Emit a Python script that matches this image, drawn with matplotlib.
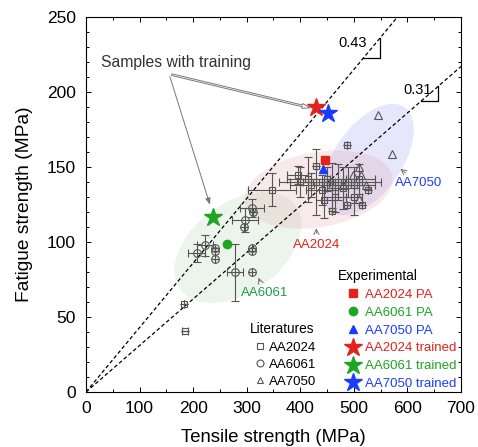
import matplotlib
matplotlib.use('Agg')
import matplotlib.pyplot as plt
from matplotlib.patches import Ellipse
from matplotlib.lines import Line2D
import numpy as np

plt.rcParams['font.family'] = ['Liberation Sans', 'DejaVu Sans']

# ---------------- data ----------------
# Literature AA2024 (tensile, fatigue, x error, y error)
lit2024_x    = [183, 185, 347, 429, 487, 460, 487, 515, 527, 400, 420, 430, 440, 450, 460, 470, 480, 490, 500, 510, 445, 465, 500, 395, 415, 455]
lit2024_y    = [59,  41,  135, 151, 165, 121, 125, 125, 135, 140, 138, 140, 135, 142, 138, 140, 136, 140, 138, 142, 128, 130, 130, 145, 142, 140]
lit2024_xerr = [0,   5,   45,  0,   0,   0,   0,   0,   0,   20,  40,  25,  30,  35,  40,  30,  30,  25,  40,  30,  15,  20,  15,  20,  40,  95]
lit2024_yerr = [0,   0,   11,  0,   0,   0,   0,   0,   0,   10,  8,   22,  10,  8,   15,  12,  14,  10,  12,  10,  12,  10,  12,  6,   15,  0]

# Literature AA6061
lit6061_x    = [207, 222, 241, 241, 241, 297, 295, 310, 312, 310, 310, 278, 310]
lit6061_y    = [93,  98,  96,  94,  89,  115, 110, 123, 120, 96,  94,  80,  80]
lit6061_xerr = [16,  15,  0,   0,   0,   24,  0,   23,  0,   0,   0,   15,  0]
lit6061_yerr = [6,   7,   0,   0,   0,   8,   0,   6,   0,   0,   0,   19,  0]

# Literature AA7050
lit7050_x = [545, 571, 510, 498, 514, 522, 510, 480]
lit7050_y = [185, 159, 150, 145, 145, 138, 129, 138]

# Experimental (PA) and trained samples
alloys = ['AA2024', 'AA6061', 'AA7050']
pa_x = [446, 263, 442]
pa_y = [155, 99, 149]
trained_x = [429, 237, 452]
trained_y = [190, 117, 186]

slopes = [0.43, 0.31]
slope_labels = ['0.43', '0.31']

xticks = [0, 100, 200, 300, 400, 500, 600, 700]
yticks = [0, 50, 100, 150, 200, 250]

# ---------------- style ----------------
RED = '#e3221c'
GREEN = '#1ea524'
BLUE = '#1a3cff'
GRAY = '#555555'
pa_markers = ['s', 'o', '^']
colors = [RED, GREEN, BLUE]

fig = plt.figure(figsize=(4.78, 4.47), dpi=100)
ax = fig.add_axes([86/478, 55/447, 375/478, 375/447])
ax.set_xlim(0, 700)
ax.set_ylim(0, 250)

# shaded regions (in axes fraction; the axes is square in pixels)
ax.add_patch(Ellipse((0.405, 0.385), 0.38, 0.24, angle=36, transform=ax.transAxes,
                     facecolor='#5aa85a', alpha=0.11, edgecolor='none', zorder=0))
ax.add_patch(Ellipse((0.752, 0.62), 0.34, 0.18, angle=55, transform=ax.transAxes,
                     facecolor='#6a6af0', alpha=0.16, edgecolor='none', zorder=0))
ax.add_patch(Ellipse((0.62, 0.54), 0.40, 0.20, angle=10, transform=ax.transAxes,
                     facecolor='#d87070', alpha=0.14, edgecolor='none', zorder=0))

# ratio lines
xs = np.linspace(0, 700, 200)
for s in slopes:
    ax.plot(xs, s * xs, color='black', lw=0.9, dashes=(3, 2), zorder=2)

# slope triangles
ax.plot([518, 549, 549], [0.43*518, 0.43*518, 0.43*549], color='black', lw=0.9, zorder=2)
ax.plot([625, 657, 657], [0.31*625, 0.31*625, 0.31*657], color='black', lw=0.9, zorder=2)
ax.text(524, 232.5, slope_labels[0], fontsize=10.5, ha='right', va='center')
ax.text(646, 201, slope_labels[1], fontsize=10.5, ha='right', va='center')

# literature data
ekw = dict(fmt='none', ecolor=GRAY, elinewidth=0.8, capsize=3, capthick=0.8, zorder=3)
ax.errorbar(lit2024_x, lit2024_y, xerr=lit2024_xerr, yerr=lit2024_yerr, **ekw)
ax.errorbar(lit6061_x, lit6061_y, xerr=lit6061_xerr, yerr=lit6061_yerr, **ekw)
ax.plot(lit2024_x, lit2024_y, 's', ms=5, mfc='none', mec=GRAY, mew=0.8, zorder=4)
ax.plot(lit6061_x, lit6061_y, 'o', ms=5.5, mfc='none', mec=GRAY, mew=0.8, zorder=4)
ax.plot(lit7050_x, lit7050_y, '^', ms=5.5, mfc='none', mec=GRAY, mew=0.8, zorder=4)

# experimental
for i in range(3):
    ax.plot(pa_x[i], pa_y[i], pa_markers[i], ms=6, color=colors[i], zorder=5)
    ax.plot(trained_x[i], trained_y[i], '*', ms=13.5, color=colors[i], zorder=5)

# annotations
ax.text(168, 220, 'Samples with training', fontsize=11.3, color='#333333', ha='center', va='center')
ax.annotate('', xy=(424, 189), xytext=(155, 212),
            arrowprops=dict(arrowstyle='simple,head_width=0.35,head_length=0.6,tail_width=0.12',
                            fc='white', ec='#777777', lw=0.7), zorder=6)
ax.annotate('', xy=(233, 123), xytext=(155, 212),
            arrowprops=dict(arrowstyle='-|>,head_width=0.15,head_length=0.4', color='#777777', lw=0.7), zorder=6)

ax.annotate('AA2024', xy=(430, 111), xytext=(430, 98), fontsize=9.5, color=RED,
            ha='center', va='center',
            arrowprops=dict(arrowstyle='->', color='#777777', lw=0.7))
ax.annotate('AA6061', xy=(320, 78), xytext=(333, 66), fontsize=9.5, color='#1e9a4c',
            ha='center', va='center',
            arrowprops=dict(arrowstyle='->', color='#777777', lw=0.7))
ax.annotate('AA7050', xy=(583, 150), xytext=(620, 139), fontsize=9.5, color=BLUE,
            ha='center', va='center',
            arrowprops=dict(arrowstyle='->', color='#777777', lw=0.7))

# legends
lit_handles = [Line2D([], [], ls='none', marker=m, ms=5, mfc='none', mec=GRAY, mew=0.8)
               for m in ['s', 'o', '^']]
leg1 = ax.legend(lit_handles, alloys, loc='upper left',
                 bbox_to_anchor=(0.45, 0.134), frameon=False, fontsize=9.5,
                 handlelength=0.8, handletextpad=0.28,
                 labelspacing=0.35, borderpad=0, borderaxespad=0)
ax.add_artist(leg1)
ax.text(305, 42, 'Literatures', fontsize=9.8, ha='left', va='center')

exp_handles = []
exp_labels = []
exp_colors = []
for i in range(3):
    exp_handles.append(Line2D([], [], ls='none', marker=pa_markers[i], ms=6, color=colors[i]))
    exp_labels.append(alloys[i] + ' PA')
    exp_colors.append(colors[i])
for i in range(3):
    exp_handles.append(Line2D([], [], ls='none', marker='*', ms=13.5, color=colors[i]))
    exp_labels.append(alloys[i] + ' trained')
    exp_colors.append(colors[i])
leg2 = ax.legend(exp_handles, exp_labels, loc='upper left',
                 bbox_to_anchor=(0.694, 0.275), frameon=False, fontsize=9.5,
                 handlelength=1.0, handletextpad=0.41,
                 labelspacing=0.42, borderpad=0, borderaxespad=0)
for t, c in zip(leg2.get_texts(), exp_colors):
    t.set_color(c)
ax.text(470, 77.3, 'Experimental', fontsize=9.8, ha='left', va='center')

# axes styling
ax.set_xticks(xticks)
ax.set_yticks(yticks)
ax.set_xticks(np.arange(0, 701, 50), minor=True)
ax.set_yticks(np.arange(0, 251, 10), minor=True)
ax.tick_params(which='both', direction='in', top=True, right=True, labelsize=12.5, width=0.7)
ax.tick_params(axis='y', which='major', length=3.5, pad=7.2)
ax.tick_params(axis='x', which='major', length=3.5, pad=6.5)
ax.tick_params(which='minor', length=2)
for sp in ax.spines.values():
    sp.set_linewidth(0.8)
ax.set_xlabel('Tensile strength (MPa)', fontsize=13.3, labelpad=9)
ax.set_ylabel('Fatigue strength (MPa)', fontsize=13.8, labelpad=10)

fig.savefig('out.png', dpi=100)
